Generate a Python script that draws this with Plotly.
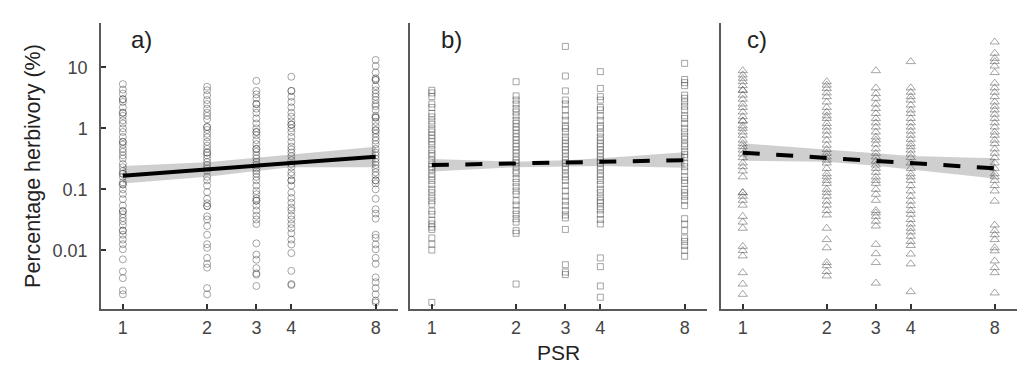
import plotly.graph_objects as go

# ---------------- data ----------------
psr_levels = [1, 2, 3, 4, 8]
x_tick_labels = ["1", "2", "3", "4", "8"]
y_tick_vals = [0.01, 0.1, 1, 10]
y_tick_labels = ["0.01", "0.1", "1", "10"]
panel_labels = ["a)", "b)", "c)"]

# panel a (circles)
a_psr1 = [5.3, 4.3, 3.7, 3.0, 3.0, 2.7, 2.2, 1.8, 1.8, 1.6, 1.35, 1.2, 1.0, 0.87, 0.72, 0.6, 0.6, 0.54,
          0.46, 0.41, 0.36, 0.32, 0.26, 0.23, 0.2, 0.18, 0.18, 0.16, 0.13, 0.12, 0.12, 0.10, 0.084, 0.069,
          0.054, 0.044, 0.044, 0.039, 0.034, 0.030, 0.026, 0.021, 0.021, 0.018, 0.015, 0.0126, 0.0104,
          0.0071, 0.0045, 0.0035, 0.0022, 0.0019]
a_psr2 = [4.8, 4.2, 3.5, 2.9, 2.5, 2.1, 1.8, 1.6, 1.4, 1.05, 1.05, 0.94, 0.81, 0.71, 0.6, 0.52, 0.46, 0.4,
          0.4, 0.36, 0.32, 0.28, 0.25, 0.22, 0.2, 0.16, 0.14, 0.115, 0.09, 0.07, 0.059, 0.053, 0.053, 0.036,
          0.032, 0.025, 0.018, 0.0126, 0.011, 0.0075, 0.006, 0.0052, 0.0024, 0.0019]
a_psr3 = [6.0, 4.1, 3.6, 3.1, 2.5, 2.5, 2.1, 1.8, 1.45, 1.2, 1.0, 0.87, 0.87, 0.77, 0.64, 0.55, 0.46, 0.46,
          0.41, 0.36, 0.32, 0.28, 0.25, 0.22, 0.2, 0.18, 0.16, 0.14, 0.115, 0.094, 0.083, 0.071, 0.065,
          0.065, 0.054, 0.045, 0.037, 0.032, 0.027, 0.013, 0.0085, 0.007, 0.0051, 0.0042, 0.004, 0.0026]
a_psr4 = [7.0, 4.1, 4.1, 3.3, 2.7, 2.2, 1.8, 1.55, 1.3, 1.15, 1.15, 1.0, 0.87, 0.72, 0.6, 0.5, 0.45, 0.4,
          0.35, 0.3, 0.26, 0.23, 0.19, 0.17, 0.14, 0.14, 0.115, 0.088, 0.072, 0.06, 0.05, 0.045, 0.037,
          0.032, 0.027, 0.023, 0.019, 0.015, 0.0125, 0.009, 0.0046, 0.0028, 0.0027]
a_psr8 = [13.2, 10.5, 8.2, 6.6, 6.2, 6.2, 4.9, 4.2, 3.7, 3.3, 2.9, 2.5, 2.3, 2.0, 1.6, 1.5, 1.5, 1.27, 1.08,
          0.93, 0.93, 0.82, 0.71, 0.63, 0.55, 0.46, 0.4, 0.36, 0.32, 0.28, 0.25, 0.22, 0.19, 0.17, 0.14,
          0.14, 0.125, 0.1, 0.07, 0.047, 0.04, 0.033, 0.018, 0.016, 0.0125, 0.0104, 0.0075, 0.006, 0.0036,
          0.003, 0.0024, 0.0019, 0.0015, 0.0014]

# panel b (squares)
b_psr1 = [4.2, 3.8, 3.3, 2.5, 2.2, 1.75, 1.54, 1.32, 1.16, 0.98, 0.87, 0.77, 0.68, 0.6, 0.53, 0.45, 0.39,
          0.35, 0.30, 0.26, 0.235, 0.21, 0.18, 0.16, 0.14, 0.12, 0.10, 0.088, 0.075, 0.065, 0.057, 0.044,
          0.039, 0.031, 0.027, 0.024, 0.022, 0.016, 0.0126, 0.0101, 0.0014]
b_psr2 = [5.8, 3.4, 2.9, 2.5, 2.1, 1.85, 1.6, 1.35, 1.2, 1.05, 0.93, 0.82, 0.72, 0.64, 0.56, 0.5, 0.44,
          0.39, 0.34, 0.3, 0.27, 0.235, 0.2, 0.18, 0.15, 0.13, 0.11, 0.094, 0.083, 0.065, 0.055, 0.045,
          0.039, 0.033, 0.029, 0.021, 0.019, 0.0028]
b_psr3 = [22.0, 7.2, 4.1, 2.9, 2.5, 2.0, 1.6, 1.35, 1.1, 1.0, 0.87, 0.72, 0.64, 0.56, 0.5, 0.44, 0.39,
          0.34, 0.3, 0.27, 0.235, 0.21, 0.18, 0.16, 0.14, 0.115, 0.094, 0.077, 0.064, 0.054, 0.045, 0.038,
          0.034, 0.022, 0.0058, 0.0044, 0.004]
b_psr4 = [8.5, 4.5, 3.3, 2.9, 2.2, 2.0, 1.6, 1.35, 1.1, 1.0, 0.84, 0.72, 0.64, 0.56, 0.5, 0.44, 0.39,
          0.34, 0.3, 0.27, 0.235, 0.21, 0.18, 0.16, 0.14, 0.12, 0.1, 0.088, 0.075, 0.066, 0.06, 0.052,
          0.046, 0.039, 0.032, 0.027, 0.0075, 0.0054, 0.0026, 0.0017]
b_psr8 = [11.6, 6.3, 5.6, 5.0, 3.5, 3.1, 2.7, 2.3, 2.0, 1.6, 1.45, 1.2, 1.0, 0.87, 0.74, 0.66, 0.56, 0.5,
          0.42, 0.37, 0.33, 0.27, 0.235, 0.2, 0.16, 0.14, 0.125, 0.1, 0.088, 0.077, 0.066, 0.054, 0.033,
          0.027, 0.021, 0.016, 0.014, 0.012, 0.01, 0.008]

# panel c (triangles)
c_psr1 = [8.8, 7.5, 6.6, 5.8, 5.0, 4.2, 4.2, 3.5, 3.0, 2.5, 2.2, 1.85, 1.55, 1.32, 1.32, 1.1, 1.0, 0.87,
          0.77, 0.64, 0.56, 0.5, 0.44, 0.38, 0.33, 0.27, 0.235, 0.2, 0.16, 0.088, 0.088, 0.077, 0.066,
          0.055, 0.036, 0.029, 0.023, 0.0116, 0.0099, 0.0081, 0.0043, 0.0028, 0.0019]
c_psr2 = [5.8, 5.1, 4.5, 3.8, 3.3, 2.7, 2.2, 1.85, 1.6, 1.45, 1.2, 1.05, 0.9, 0.77, 0.64, 0.53, 0.45,
          0.39, 0.34, 0.3, 0.27, 0.22, 0.18, 0.16, 0.14, 0.125, 0.1, 0.088, 0.077, 0.064, 0.055, 0.045,
          0.038, 0.023, 0.015, 0.011, 0.0063, 0.0056, 0.0045, 0.0038]
c_psr3 = [8.8, 4.6, 3.7, 3.1, 2.5, 2.1, 1.75, 1.45, 1.23, 1.05, 0.87, 0.72, 0.64, 0.55, 0.46, 0.39, 0.34,
          0.29, 0.25, 0.22, 0.19, 0.16, 0.14, 0.125, 0.1, 0.083, 0.066, 0.045, 0.041, 0.036, 0.03, 0.025,
          0.0125, 0.0088, 0.0063, 0.0029]
c_psr4 = [12.4, 4.6, 3.9, 3.3, 2.9, 2.4, 2.0, 1.75, 1.45, 1.23, 1.05, 0.9, 0.77, 0.66, 0.56, 0.5, 0.44,
          0.38, 0.33, 0.27, 0.22, 0.18, 0.16, 0.14, 0.115, 0.094, 0.077, 0.064, 0.054, 0.045, 0.039, 0.032,
          0.027, 0.023, 0.02, 0.017, 0.014, 0.012, 0.0087, 0.006, 0.0021]
c_psr8 = [26.0, 17.0, 14.0, 12.4, 10.5, 8.2, 5.5, 4.6, 3.9, 3.3, 2.7, 2.3, 2.0, 1.7, 1.45, 1.23, 1.05,
          0.87, 0.77, 0.64, 0.56, 0.46, 0.39, 0.33, 0.27, 0.22, 0.18, 0.16, 0.14, 0.115, 0.094, 0.064,
          0.026, 0.021, 0.018, 0.015, 0.011, 0.0098, 0.0067, 0.0052, 0.0043, 0.002]

# model fits (predicted line and confidence band at each PSR level)
fit_a = [0.167, 0.205, 0.235, 0.262, 0.342]
fit_a_upper = [0.241, 0.277, 0.33, 0.375, 0.499]
fit_a_lower = [0.125, 0.161, 0.20, 0.23, 0.23]
fit_b = [0.25, 0.265, 0.275, 0.282, 0.30]
fit_b_upper = [0.314, 0.284, 0.30, 0.322, 0.405]
fit_b_lower = [0.195, 0.23, 0.236, 0.241, 0.226]
fit_c = [0.398, 0.33, 0.292, 0.272, 0.221]
fit_c_upper = [0.567, 0.453, 0.389, 0.351, 0.322]
fit_c_lower = [0.294, 0.284, 0.244, 0.213, 0.151]

# ---------------- figure ----------------
FONT = "Liberation Sans, Arial, sans-serif"
AXIS_COL = "#5a5a5a"
TXT_COL = "#444444"
MARK_COL = "rgba(70,70,70,0.48)"

panels = [
    dict(cols=[a_psr1, a_psr2, a_psr3, a_psr4, a_psr8], symbol="circle-open", size=7,
         fit=fit_a, up=fit_a_upper, lo=fit_a_lower, dash="solid"),
    dict(cols=[b_psr1, b_psr2, b_psr3, b_psr4, b_psr8], symbol="square-open", size=6,
         fit=fit_b, up=fit_b_upper, lo=fit_b_lower, dash="17px,16.5px"),
    dict(cols=[c_psr1, c_psr2, c_psr3, c_psr4, c_psr8], symbol="triangle-up-open", size=8,
         fit=fit_c, up=fit_c_upper, lo=fit_c_lower, dash="17px,16.5px"),
]

x_domains = [[101 / 1024, 398 / 1024], [410 / 1024, 707 / 1024], [721 / 1024, 1017 / 1024]]
y_domain = [1 - 309 / 370, 1 - 23 / 370]
label_x = [141 / 1024, 451 / 1024, 757 / 1024]

fig = go.Figure()
for i, p in enumerate(panels):
    xa = "x" if i == 0 else f"x{i + 1}"
    ya = "y" if i == 0 else f"y{i + 1}"
    # confidence band
    fig.add_trace(go.Scatter(
        x=psr_levels + psr_levels[::-1], y=p["up"] + p["lo"][::-1],
        fill="toself", fillcolor="rgba(195,195,195,0.8)", line=dict(width=0),
        mode="lines", hoverinfo="skip", showlegend=False, xaxis=xa, yaxis=ya))
    # raw points
    xs, ys = [], []
    for lvl, col in zip(psr_levels, p["cols"]):
        xs += [lvl] * len(col)
        ys += col
    fig.add_trace(go.Scatter(
        x=xs, y=ys, mode="markers", showlegend=False, xaxis=xa, yaxis=ya,
        marker=dict(symbol=p["symbol"], size=p["size"], color=MARK_COL,
                    line=dict(width=1, color=MARK_COL))))
    # fitted line
    fig.add_trace(go.Scatter(
        x=[psr_levels[0], psr_levels[-1]], y=[p["fit"][0], p["fit"][-1]], mode="lines",
        line=dict(color="black", width=4, dash=p["dash"]),
        showlegend=False, xaxis=xa, yaxis=ya))

layout = dict(
    width=1024, height=370, autosize=False,
    margin=dict(l=0, r=0, t=0, b=0),
    paper_bgcolor="white", plot_bgcolor="white",
    font=dict(family=FONT, color=TXT_COL, size=18),
    annotations=[],
)
for i in range(3):
    xk = "xaxis" if i == 0 else f"xaxis{i + 1}"
    yk = "yaxis" if i == 0 else f"yaxis{i + 1}"
    ya = "y" if i == 0 else f"y{i + 1}"
    xa = "x" if i == 0 else f"x{i + 1}"
    layout[xk] = dict(
        type="log", domain=x_domains[i], range=[-0.078, 0.983], anchor=ya,
        tickvals=psr_levels, ticktext=x_tick_labels, ticks="inside", ticklen=5,
        tickwidth=2, tickcolor="#333333", showline=True, linecolor=AXIS_COL, linewidth=1.5,
        showgrid=False, zeroline=False, tickfont=dict(size=18, color=TXT_COL),
        ticklabelstandoff=2,
    )
    ydict = dict(
        type="log", domain=y_domain, range=[-2.962, 1.726], anchor=xa,
        showline=True, linecolor=AXIS_COL, linewidth=1.5, showgrid=False, zeroline=False,
    )
    if i == 0:
        ydict.update(tickvals=y_tick_vals, ticktext=y_tick_labels, ticks="inside", ticklen=5,
                     tickwidth=2, tickcolor="#333333", tickfont=dict(size=18, color=TXT_COL),
                     ticklabelstandoff=8,
                     title=dict(text="Percentage herbivory (%)", standoff=6,
                                font=dict(size=21.5, color="#222222")))
    else:
        ydict.update(showticklabels=False, ticks="")
    layout[yk] = ydict
    layout["annotations"].append(dict(
        text=panel_labels[i], x=label_x[i], y=1 - 39 / 370, xref="paper", yref="paper",
        xanchor="center", yanchor="middle", showarrow=False,
        font=dict(size=24, color="#222222", family=FONT)))

layout["xaxis2"]["title"] = dict(text="PSR", standoff=8, font=dict(size=21, color="#222222"))

fig.update_layout(**layout)
fig.write_html("out.html", config={"displayModeBar": False},
               post_script="document.body.style.margin='0';document.body.style.padding='0';")
